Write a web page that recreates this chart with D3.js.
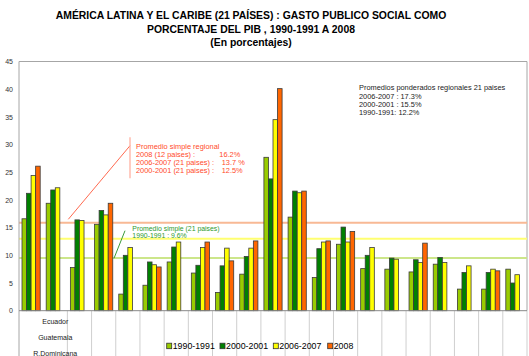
<!DOCTYPE html>
<html><head><meta charset="utf-8">
<script src="https://cdn.jsdelivr.net/npm/d3@7"></script>
<style>
body{margin:0;background:#fff;}
svg{display:block;font-family:"Liberation Sans",Arial,sans-serif;}
</style></head>
<body><svg id="c" width="529" height="356"></svg>
<script>
// ---- data ----
const categories = ["p01","p02","p03","p04","p05","p06","p07","p08","p09","p10","p11",
                    "p12","p13","p14","p15","p16","p17","p18","p19","p20","p21"];
const series = ["1990-1991","2000-2001","2006-2007","2008"];
const colors = ["#99cc00","#008000","#ffff00","#ff6600"];
const v1990 = [16.6,19.4,7.8,15.6,3.0,4.6,8.8,6.8,3.3,6.6,27.7,16.9,6.0,12.0,7.6,7.5,7.0,8.4,3.9,3.9,7.5];
const v2000 = [21.2,21.8,16.4,18.1,10.0,8.8,11.5,8.2,8.1,9.8,23.8,21.6,11.2,15.1,10.0,9.5,9.2,9.6,6.9,6.9,5.0];
const v2006 = [24.4,22.2,16.3,17.3,11.4,8.3,12.4,11.4,11.3,11.3,34.5,21.3,12.4,12.4,11.4,9.3,8.7,8.7,8.1,7.5,6.5];
const v2008 = [26.1,null,null,19.4,null,7.9,null,12.4,9.0,12.6,40.1,21.6,12.6,14.3,null,null,12.2,null,null,7.2,null];
const yTicks = [0,5,10,15,20,25,30,35,40,45];
const axisLabels = ["Ecuador","Guatemala","R.Dominicana"];
const refLines = [15.9,13.0,9.5];
const refColors = ["#f8b995","#ffff70","#cce68a"];
const titleLines = ["AMÉRICA LATINA Y EL CARIBE (21 PAÍSES) : GASTO PUBLICO SOCIAL COMO",
                    "PORCENTAJE DEL PIB , 1990-1991 A 2008","(En porcentajes)"];
const noteRed = [["Promedio simple regional",""],["2008 (12 paises) :","16.2%"],
                 ["2006-2007 (21 paises) :","13.7 %"],["2000-2001 (21 paises) :","12.5%"]];
const noteGreen = ["Promedio simple (21 paises)","1990-1991 : 9.6%"];
const noteBlack = ["Promedios ponderados regionales 21 paises","2006-2007 : 17.3%","2000-2001 : 15.5%","1990-1991:  12.2%"];

const values = [v1990,v2000,v2006,v2008];
const svg = d3.select("#c");
const L=19, R=527, T=61.5, B=310.7;
const x = d3.scaleBand().domain(categories).range([L,R]).padding(0);
const x1 = d3.scaleBand().domain(series).range([3.0, x.bandwidth()-3.0]).padding(0);
const y = d3.scaleLinear().domain([0,45]).range([B,T]);

// title
svg.append("g").selectAll("text").data(titleLines).join("text")
  .attr("x",251).attr("y",(d,i)=>19+i*13.5).attr("text-anchor","middle")
  .attr("font-size","10.4px").attr("font-weight","bold").attr("fill","#000").text(d=>d);

// plot border (top & right)
svg.append("path").attr("d",`M${L},${T}H${R}V${B}`).attr("fill","none").attr("stroke","#a6a6a6").attr("stroke-width",1);

// category separator ticks extending below axis
svg.append("g").selectAll("line").data(categories.slice(2)).join("line")
  .attr("x1",d=>x(d)).attr("x2",d=>x(d)).attr("y1",B).attr("y2",356)
  .attr("stroke","#cfcfcf").attr("stroke-width",1);
svg.append("line").attr("x1",R).attr("x2",R).attr("y1",B).attr("y2",356).attr("stroke","#cfcfcf");

// reference lines
svg.append("g").selectAll("line").data(refLines).join("line")
  .attr("x1",L).attr("x2",R).attr("y1",d=>y(d)).attr("y2",d=>y(d))
  .attr("stroke",(d,i)=>refColors[i]).attr("stroke-width",2);

// bars
const g = svg.append("g");
series.forEach((s,si)=>{
  g.append("g").selectAll("rect").data(categories.map((c,ci)=>({c,v:values[si][ci]})).filter(d=>d.v!=null))
   .join("rect")
   .attr("x",d=>x(d.c)+x1(s)).attr("width",x1.bandwidth())
   .attr("y",d=>y(d.v)).attr("height",d=>B-y(d.v))
   .attr("fill",colors[si]).attr("stroke","#3a3a3a").attr("stroke-width",0.8);
});

// y axis
const ya = svg.append("g").attr("transform",`translate(${L},0)`)
  .call(d3.axisLeft(y).tickValues(yTicks).tickSize(0).tickPadding(6));
ya.select(".domain").remove();
ya.selectAll("text").attr("font-size","7px").attr("fill","#333").attr("font-family","Liberation Sans, Arial, sans-serif");
svg.append("line").attr("x1",L).attr("x2",L).attr("y1",T).attr("y2",356).attr("stroke","#a6a6a6");
// x axis line
svg.append("line").attr("x1",L).attr("x2",R).attr("y1",B).attr("y2",B).attr("stroke","#888");

// x labels
svg.append("g").selectAll("text").data(axisLabels).join("text")
  .attr("x",x(categories[1])+x.bandwidth()/2).attr("y",(d,i)=>323.5+i*16.2)
  .attr("text-anchor","middle").attr("font-size","7px").attr("fill","#222").text(d=>d);

// red note
const red="#ff4a2a";
svg.append("line").attr("x1",68.3).attr("y1",219.3).attr("x2",130).attr("y2",145.7).attr("stroke","#ff6a50").attr("stroke-width",1);
svg.append("line").attr("x1",130).attr("y1",137.3).attr("x2",130).attr("y2",178.3).attr("stroke","#ffaa99").attr("stroke-width",1.2);
const rn = svg.append("g").attr("font-size","7.4px").attr("fill",red);
rn.selectAll("text.a").data(noteRed).join("text").attr("class","a")
  .attr("x",136).attr("y",(d,i)=>148.5+i*8.2).text(d=>d[0]);
rn.selectAll("text.b").data(noteRed).join("text").attr("class","b")
  .attr("x",(d,i)=>i===1?219.3:221.7).attr("y",(d,i)=>148.5+i*8.2).text(d=>d[1]);

// green note
svg.append("line").attr("x1",125).attr("y1",230.7).attr("x2",114).attr("y2",258.3).attr("stroke","#3a9a3a").attr("stroke-width",1);
svg.append("g").attr("font-size","6.9px").attr("fill","#2e9a2e").selectAll("text").data(noteGreen).join("text")
  .attr("x",132.3).attr("y",(d,i)=>230.8+i*7.1).text(d=>d);

// black note
svg.append("g").attr("font-size","7.4px").attr("fill","#222").selectAll("text").data(noteBlack).join("text")
  .attr("x",359).attr("y",(d,i)=>90.3+i*8.2).text(d=>d);

// legend
const lx=[166.7,220,273.3,327.7];
const lg = svg.append("g").selectAll("g").data(series).join("g")
  .attr("transform",(d,i)=>`translate(${lx[i]},346)`);
lg.append("rect").attr("x",0).attr("y",-2.8).attr("width",5).attr("height",5.5)
  .attr("fill",(d,i)=>colors[i]).attr("stroke","#333").attr("stroke-width",0.8);
lg.append("text").attr("x",6).attr("y",3.2).attr("font-size","8.8px").attr("fill","#000").text(d=>d);
</script></body></html>
